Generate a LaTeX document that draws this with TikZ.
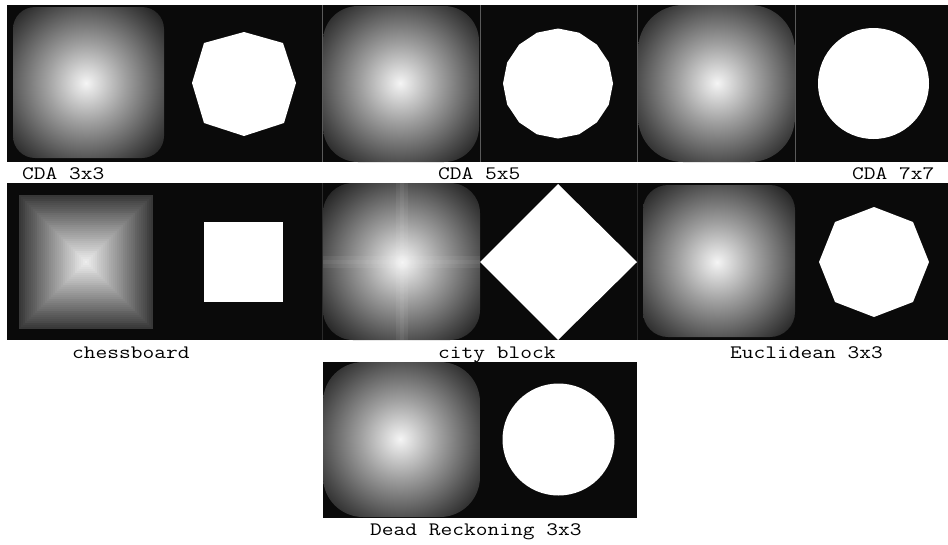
\documentclass[tikz,border=0pt]{standalone}
\usepackage{graphicx}
\definecolor{bgblack}{HTML}{0A0A0A}
\definecolor{sepgray}{HTML}{5A5A5A}
\definecolor{sepdark}{HTML}{2A2A2A}
% TikZ maps the path bounding box onto the central 50bp of the shading:
% with a circle of radius 100 the scale is 1bp = 4 units.
\pgfdeclareradialshading{distshade}{\pgfpoint{0bp}{0bp}}{%
 color(0bp)=(white!96!black);
 color(5bp)=(white!79!black);
 color(10bp)=(white!62!black);
 color(15bp)=(white!46!black);
 color(20bp)=(white!30!black);
 color(25bp)=(white!15!black);
 color(30bp)=(white!6!black);
 color(50bp)=(white!4!black)}
\begin{document}
\begin{tikzpicture}[x=1pt,y=-1pt,
  bg/.style={fill=bgblack},
  blob/.style={fill=white},
  lbl/.style={anchor=base west,inner sep=0pt,font=\fontsize{19}{20}\selectfont\ttfamily},
  sep/.style={draw=sepgray,line width=0.8pt},
  sepfaint/.style={draw=sepdark,line width=0.8pt}]
\useasboundingbox (0,0) rectangle (948,544);
\fill[white] (0,0) rectangle (948,544);
% black bands
\fill[bg] (7,5) rectangle (948,162);
\fill[bg] (7,183) rectangle (948,340);
\fill[bg] (323,362) rectangle (637,518);

% ---------- row 1 ----------
% CDA 3x3
\begin{scope}
  \clip[rounded corners=22pt] (13,7) rectangle (164,158);
  \shade[shading=distshade] (86,83) circle (100);
\end{scope}
\fill[blob] (244,32) -- (283,43) -- (296,83) -- (284,123) -- (244,136) -- (204,123) -- (192,83) -- (204,43) -- cycle;
% CDA 5x5
\begin{scope}
  \clip[rounded corners=35pt] (323,6) rectangle (479,162);
  \shade[shading=distshade] (400,83) circle (100);
\end{scope}
\fill[blob] (558,83.5) +(0:55) \foreach \a in {22.5,45,...,337.5} { -- +(\a:55) } -- cycle;
% CDA 7x7
\begin{scope}
  \clip[rounded corners=45pt] (638,5) rectangle (795,162);
  \shade[shading=distshade] (717,83) circle (100);
\end{scope}
\fill[blob] (873.5,83.5) circle (55.5);
% separators row 1
\draw[sep] (322,5) -- (322,162);
\draw[sep] (480,5) -- (480,162);
\draw[sep] (637,5) -- (637,162);
\draw[sep] (795,5) -- (795,162);

% ---------- row 2 ----------
% chessboard
\foreach \s in {67,65,...,1} {
  \pgfmathtruncatemacro\g{95-1.08*\s}
  \fill[white!\g!black] (85.5-\s,261.5-\s) rectangle (85.5+\s,261.5+\s);
}
\fill[blob] (204,222) rectangle (283,302);
% city block
\begin{scope}
  \clip[rounded corners=30pt] (323,183) rectangle (480,340);
  \shade[shading=distshade] (402,262) circle (100);
  \fill[white,opacity=0.06] (323,256) rectangle (480,268);
  \fill[white,opacity=0.06] (396,183) rectangle (408,340);
  \fill[white,opacity=0.05] (323,260) rectangle (480,264);
  \fill[white,opacity=0.05] (400,183) rectangle (404,340);
\end{scope}
\fill[blob] (558,184) -- (637,262) -- (558,340) -- (480,262) -- cycle;
% Euclidean 3x3
\begin{scope}
  \clip[rounded corners=25pt] (643,185) rectangle (795,337);
  \shade[shading=distshade] (717,262) circle (100);
\end{scope}
\fill[blob] (874,207) -- (913,222) -- (929,262) -- (913,302) -- (874,317) -- (835,302) -- (819,262) -- (835,222) -- cycle;
\draw[sepfaint] (322,183) -- (322,340);
\draw[sepfaint] (637,183) -- (637,340);

% ---------- row 3 ----------
\begin{scope}
  \clip[rounded corners=40pt] (323,362) rectangle (480,517);
  \shade[shading=distshade] (400,439) circle (100);
\end{scope}
\fill[blob] (558.5,439.5) circle (56);

% ---------- labels ----------
\node[lbl] (l1) at (22,179) {\scalebox{1.2}[1]{CDA 3x3}};
\node[lbl] (l2) at (438,179) {\scalebox{1.2}[1]{CDA 5x5}};
\node[lbl] (l3) at (852,179) {\scalebox{1.2}[1]{CDA 7x7}};
\node[lbl] (l4) at (72,358) {\scalebox{1.2}[1]{chessboard}};
\node[lbl] (l5) at (438,358) {\scalebox{1.2}[1]{city block}};
\node[lbl] (l6) at (730,358) {\scalebox{1.2}[1]{Euclidean 3x3}};
\node[lbl] (l7) at (370,535) {\scalebox{1.2}[1]{Dead Reckoning 3x3}};
\end{tikzpicture}
\end{document}
